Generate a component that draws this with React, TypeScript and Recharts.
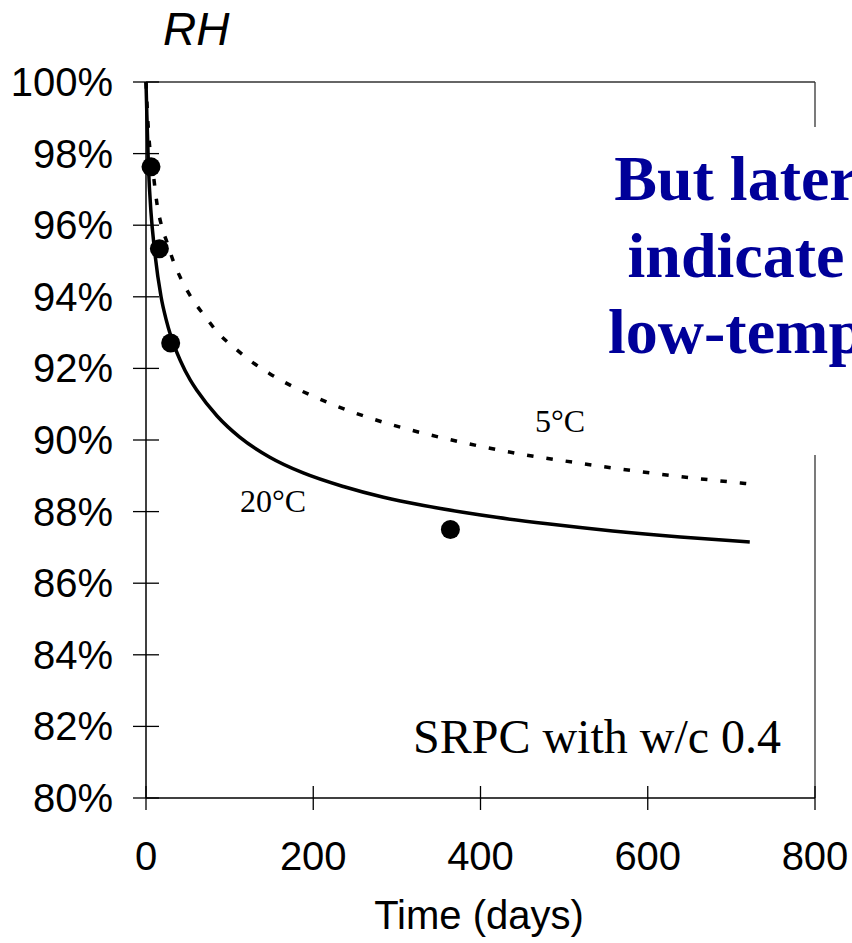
import React from "react";
import {
  ComposedChart,
  Line,
  Scatter,
  XAxis,
  YAxis,
  ReferenceLine,
} from "recharts";

// 20°C model curve (solid)
const solidDays = [0, 1, 3, 6, 10, 18, 24, 30, 41, 53, 61, 85, 112, 148, 188, 236, 284, 332, 379, 419, 480, 558, 639, 722];
const solidRH = [100, 99.1, 97.6, 96.35, 95.35, 94.0, 93.37, 92.88, 92.22, 91.67, 91.38, 90.67, 90.08, 89.52, 89.08, 88.7, 88.4, 88.17, 87.98, 87.84, 87.66, 87.46, 87.29, 87.15];

// 5°C model curve (dashed)
const dashedDays = [0, 2.4, 9.6, 13, 19, 25, 32, 42.5, 55.6, 71, 86.6, 106, 125, 147.5, 170, 217, 263, 310, 358, 405, 452, 499, 593, 711, 720];
const dashedRH = [100, 98.85, 97.26, 96.62, 95.95, 95.53, 95.04, 94.47, 93.93, 93.44, 92.98, 92.57, 92.21, 91.86, 91.56, 91.05, 90.65, 90.32, 90.04, 89.8, 89.59, 89.42, 89.11, 88.8, 88.78];

// Measured points
const measDays = [6, 16, 29.5, 364];
const measRH = [97.63, 95.34, 92.71, 87.5];

const xTicks = [0, 200, 400, 600, 800];
const yTicks = [80, 82, 84, 86, 88, 90, 92, 94, 96, 98, 100];

const solidData = solidDays.map((d, i) => ({ day: d, rh: solidRH[i] }));
const dashedData = dashedDays.map((d, i) => ({ day: d, rh: dashedRH[i] }));
const measData = measDays.map((d, i) => ({ day: d, rh: measRH[i] }));

const SANS = "'Liberation Sans', Arial, sans-serif";
const SERIF = "'Liberation Serif', 'Times New Roman', serif";

const YTick = (props: any) => {
  const { x, y, payload } = props;
  return (
    <g>
      <line x1={x - 13} x2={x + 13} y1={y} y2={y} stroke="#000" strokeWidth={1.3} />
      <text x={x - 33} y={y + 14} textAnchor="end" fontFamily={SANS} fontSize={40} fill="#000">
        {payload.value}%
      </text>
    </g>
  );
};

const XTick = (props: any) => {
  const { x, y, payload } = props;
  return (
    <g>
      <line x1={x} x2={x} y1={y - 12} y2={y + 12} stroke="#000" strokeWidth={1.3} />
      <text x={x} y={y + 72} textAnchor="middle" fontFamily={SANS} fontSize={40} fill="#000">
        {payload.value}
      </text>
    </g>
  );
};

const Dot = (props: any) => <circle cx={props.cx} cy={props.cy} r={9.5} fill="#000" />;

export default function App() {
  return (
    <div style={{ position: "absolute", left: 0, top: 0, width: 852, height: 943, background: "#fff" }}>
      <ComposedChart
        width={852}
        height={943}
        margin={{ top: 82, right: 37, bottom: 0, left: 0 }}
      >
        <XAxis
          type="number"
          dataKey="day"
          domain={[0, 800]}
          ticks={xTicks}
          interval={0}
          tickSize={0}
          tickMargin={0}
          tick={<XTick />}
          height={145}
          axisLine={{ stroke: "#000", strokeWidth: 1.5 }}
          tickLine={false}
        />
        <YAxis
          type="number"
          dataKey="rh"
          domain={[80, 100]}
          ticks={yTicks}
          interval={0}
          tickSize={0}
          tickMargin={0}
          tick={<YTick />}
          width={146}
          axisLine={{ stroke: "#000", strokeWidth: 1.5 }}
          tickLine={false}
        />
        <ReferenceLine y={100} stroke="#333" strokeWidth={1.3} />
        <ReferenceLine x={800} stroke="#333" strokeWidth={1.3} />
        <Line
          data={dashedData}
          dataKey="rh"
          type="monotone"
          stroke="#000"
          strokeWidth={3.5}
          strokeDasharray="6.5 13"
          dot={false}
          activeDot={false}
          isAnimationActive={false}
        />
        <Line
          data={solidData}
          dataKey="rh"
          type="monotone"
          stroke="#000"
          strokeWidth={3.5}
          dot={false}
          activeDot={false}
          isAnimationActive={false}
        />
        <Scatter data={measData} dataKey="rh" fill="#000" shape={<Dot />} isAnimationActive={false} />
      </ComposedChart>
      <svg
        width={852}
        height={943}
        style={{ position: "absolute", left: 0, top: 0, pointerEvents: "none" }}
      >
        <text x={163} y={45} fontFamily={SANS} fontStyle="italic" fontSize={46} fill="#000">RH</text>
        <text x={479} y={929} textAnchor="middle" fontFamily={SANS} fontSize={40} fill="#000">Time (days)</text>
        <text x={413} y={753} fontFamily={SERIF} fontSize={48} fill="#000">SRPC with w/c 0.4</text>
        <text x={240} y={512} fontFamily={SERIF} fontSize={32} fill="#000">20°C</text>
        <text x={535} y={432} fontFamily={SERIF} fontSize={32} fill="#000">5°C</text>
        <rect x={600} y={127} width={252} height={328} fill="#fff" />
        <g fontFamily={SERIF} fontWeight="bold" fontSize={64} fill="#000099" textAnchor="middle">
          <text x={736} y={200}>But later</text>
          <text x={736} y={277}>indicate</text>
          <text x={736} y={353}>low-temp</text>
        </g>
      </svg>
    </div>
  );
}
